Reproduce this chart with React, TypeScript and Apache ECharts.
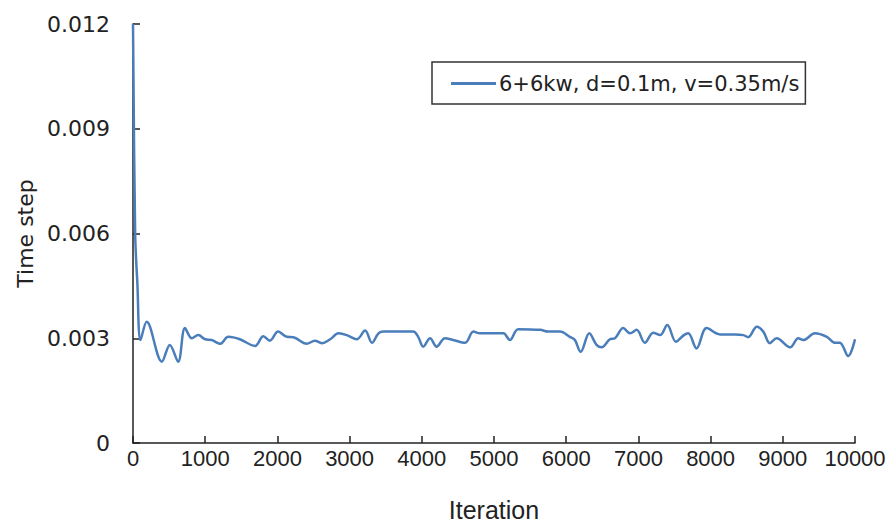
import React, { useEffect, useRef } from "react";
import * as echarts from "echarts";

const iterations = [
  0, 30, 60, 105, 190, 400, 510, 625, 720, 815, 905, 1000, 1090, 1205, 1320, 1480,
  1690, 1805, 1895, 2010, 2130, 2220, 2405, 2520, 2615, 2730, 2845, 2960, 3100, 3215,
  3310, 3400, 3470, 3880, 3950, 4020, 4115, 4205, 4320, 4435, 4600, 4715, 4805, 5015,
  5130, 5220, 5335, 5640, 5750, 5915, 6050, 6120, 6200, 6320, 6420, 6490, 6605, 6675,
  6790, 6885, 6975, 7090, 7205, 7300, 7400, 7520, 7630, 7690, 7805, 7945, 8130, 8340,
  8455, 8520, 8640, 8730, 8820, 8915, 9100, 9215, 9285, 9445, 9610, 9725, 9790, 9905,
  10000,
];

const timeSteps = [
  0.012, 0.006, 0.0046, 0.00295, 0.00347, 0.00233, 0.00281, 0.00233, 0.00329, 0.003,
  0.00309, 0.00297, 0.00295, 0.00284, 0.00304, 0.00297, 0.00278, 0.00306, 0.00293,
  0.00319, 0.00304, 0.00303, 0.00284, 0.00293, 0.00286, 0.00297, 0.00314, 0.00309,
  0.00297, 0.00322, 0.00287, 0.00314, 0.00319, 0.00319, 0.00304, 0.00276, 0.003,
  0.00276, 0.003, 0.00295, 0.00287, 0.00319, 0.00314, 0.00314, 0.00314, 0.00295,
  0.00326, 0.00324, 0.00319, 0.00319, 0.00304, 0.00295, 0.00261, 0.00314, 0.00281,
  0.00274, 0.00297, 0.003, 0.00329, 0.00314, 0.00324, 0.00287, 0.00316, 0.00309,
  0.00338, 0.0029, 0.00309, 0.00314, 0.00271, 0.00329, 0.00311, 0.00311, 0.00309,
  0.00303, 0.00333, 0.00319, 0.00286, 0.003, 0.00274, 0.003, 0.00295, 0.00314,
  0.00304, 0.00287, 0.00287, 0.00249, 0.00297,
];

const seriesName = "6+6kw, d=0.1m, v=0.35m/s";
const xTitle = "Iteration";
const yTitle = "Time step";

export default function App() {
  const ref = useRef<HTMLDivElement>(null);
  useEffect(() => {
    if (!ref.current) return;
    const chart = echarts.init(ref.current, undefined, { renderer: "svg" });
    const data = iterations.map((x, i) => [x, timeSteps[i]]);
    chart.setOption({
      animation: false,
      backgroundColor: "#ffffff",
      grid: { left: 133, right: 38, top: 24, bottom: 82, containLabel: false, outerBoundsMode: "none" },
      legend: {
        left: 432,
        top: 62,
        data: [{ name: seriesName, icon: "rect" }],
        itemWidth: 45,
        itemHeight: 3,
        itemGap: 0,
        padding: [11, 6, 10, 19],
        borderColor: "#333333",
        borderWidth: 1.5,
        textStyle: { fontFamily: "DejaVu Sans", fontSize: 21, color: "#222222", padding: [0, 0, 0, -2] },
      },
      xAxis: {
        type: "value",
        min: 0,
        max: 10000,
        interval: 1000,
        name: xTitle,
        nameLocation: "middle",
        nameGap: 53,
        nameTextStyle: { fontFamily: "Liberation Sans", fontSize: 25, color: "#222222", lineHeight: 27 },
        axisLine: { lineStyle: { color: "#222222", width: 1.5 } },
        axisTick: { inside: true, length: 7, lineStyle: { color: "#222222", width: 1.5 } },
        axisLabel: {
          margin: 4,
          fontFamily: "Liberation Sans",
          fontSize: 22,
          color: "#222222",
          formatter: (v: number) => String(v),
        },
        splitLine: { show: false },
      },
      yAxis: {
        type: "value",
        min: 0,
        max: 0.012,
        interval: 0.003,
        name: yTitle,
        nameLocation: "middle",
        nameGap: 95,
        nameTextStyle: { fontFamily: "DejaVu Sans", fontSize: 22, color: "#222222" },
        axisLine: { show: true, lineStyle: { color: "#222222", width: 1.5 } },
        axisTick: { show: true, inside: true, length: 7, lineStyle: { color: "#222222", width: 1.5 } },
        axisLabel: {
          margin: 23,
          fontFamily: "DejaVu Sans",
          fontSize: 22,
          color: "#222222",
          formatter: (v: number) => (v === 0 ? "0" : v.toFixed(3)),
        },
        splitLine: { show: false },
      },
      series: [
        {
          name: seriesName,
          type: "line",
          data,
          smooth: 0.35,
          showSymbol: false,
          symbol: "none",
          lineStyle: { color: "#4a7ebb", width: 2.5 },
          itemStyle: { color: "#4a7ebb" },
        },
      ],
    });
    return () => chart.dispose();
  }, []);
  return (
    <div
      ref={ref}
      style={{ position: "fixed", left: 0, top: 0, width: 893, height: 525 }}
    />
  );
}
